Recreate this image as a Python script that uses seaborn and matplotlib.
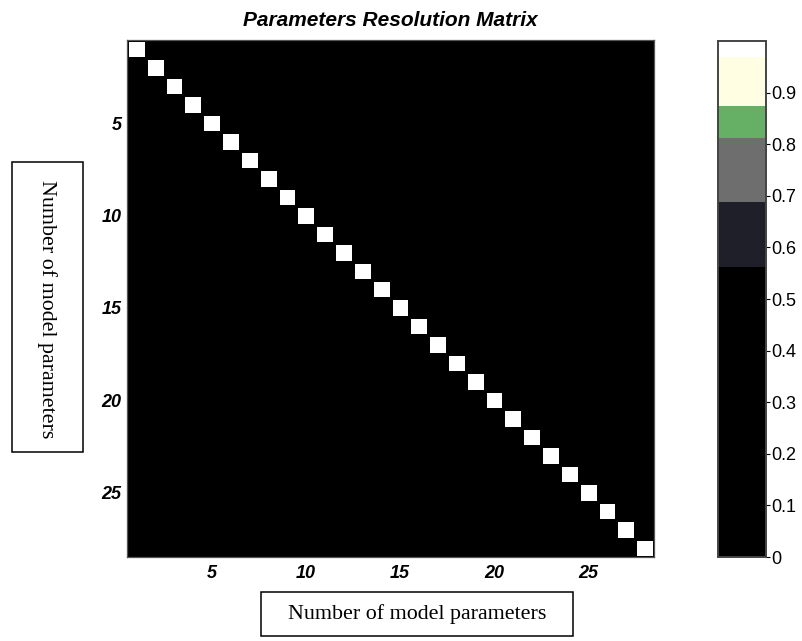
import numpy as np
import pandas as pd
import seaborn as sns
import matplotlib
matplotlib.use("Agg")
import matplotlib.pyplot as plt
from matplotlib.colors import ListedColormap
from matplotlib.patches import Rectangle

# Model parameter indices and the diagonal of the resolution matrix
n_params = 28
param_ids = list(range(1, n_params + 1))
diag_values = [1.0] * n_params
off_diag_value = 0.0

# Tick labels shown on both axes
tick_labels = [5, 10, 15, 20, 25]
cbar_ticks = [0, 0.1, 0.2, 0.3, 0.4, 0.5, 0.6, 0.7, 0.8, 0.9]

# Banded colormap: colours and how many of 64 levels each band takes
band_colors = ["#000000", "#1e1f28", "#6e6e6e", "#66b066", "#fffde2", "#ffffff"]
band_levels = [36, 8, 8, 4, 6, 2]

R = np.full((n_params, n_params), off_diag_value)
np.fill_diagonal(R, diag_values)
df = pd.DataFrame(R, index=param_ids, columns=param_ids)

cmap = ListedColormap(np.repeat(band_colors, band_levels).tolist())

sns.set_style("white")
plt.rcParams["font.family"] = ["Liberation Sans", "DejaVu Sans"]
plt.rcParams.update({"text.color": "black", "xtick.color": "black",
                     "ytick.color": "black", "axes.labelcolor": "black"})

W, H = 802, 641
fig = plt.figure(figsize=(W / 100, H / 100), dpi=100)

def fig_rect(x0, y0, x1, y1):
    return [x0 / W, 1 - y1 / H, (x1 - x0) / W, (y1 - y0) / H]

ax = fig.add_axes(fig_rect(127, 40, 654, 557))
cax = fig.add_axes(fig_rect(718, 41, 766, 557))

sns.heatmap(df, ax=ax, cmap=cmap, vmin=0, vmax=1, cbar_ax=cax,
            linewidths=1.0, linecolor="black",
            xticklabels=False, yticklabels=False)

pos = [p - 0.5 for p in tick_labels]
ax.set_xticks(pos)
ax.set_xticklabels([str(t) for t in tick_labels])
ax.set_yticks(pos)
ax.set_yticklabels([str(t) for t in tick_labels], rotation=0)
ax.tick_params(axis="both", length=0, labelsize=13, labelcolor="black")
ax.tick_params(axis="x", pad=6)
ax.tick_params(axis="y", pad=4)
for lbl in ax.get_xticklabels() + ax.get_yticklabels():
    lbl.set_fontweight("bold")
    lbl.set_fontstyle("italic")
ax.set_xlabel("")
ax.set_ylabel("")
for s in ax.spines.values():
    s.set_visible(True)
    s.set_color("#555555")
    s.set_linewidth(0.9)

ax.set_title("Parameters Resolution Matrix", fontsize=15, fontweight="bold",
             fontstyle="italic", pad=10, color="black")

cax.set_yticks(cbar_ticks)
cax.set_yticklabels([f"{t:g}" for t in cbar_ticks])
cax.tick_params(axis="y", direction="out", length=3, width=0.8, pad=1,
                labelsize=13, colors="black")
for s in cax.spines.values():
    s.set_visible(True)
    s.set_color("#444444")
    s.set_linewidth(1.2)

# Boxed axis captions
serif = ["Liberation Serif", "DejaVu Serif"]
fig.patches.append(Rectangle((12 / W, 1 - 452 / H), 71 / W, 290 / H,
                             transform=fig.transFigure, fill=False,
                             ec="black", lw=1.1))
fig.text(47 / W, 1 - 309 / H, "Number of model parameters", rotation=270,
         ha="center", va="center", fontsize=15.8, family=serif)

fig.patches.append(Rectangle((261 / W, 1 - 636 / H), 312 / W, 44 / H,
                             transform=fig.transFigure, fill=False,
                             ec="black", lw=1.1))
fig.text(417 / W, 1 - 614 / H, "Number of model parameters",
         ha="center", va="center", fontsize=15.8, family=serif)

fig.savefig("out.png", dpi=100)
